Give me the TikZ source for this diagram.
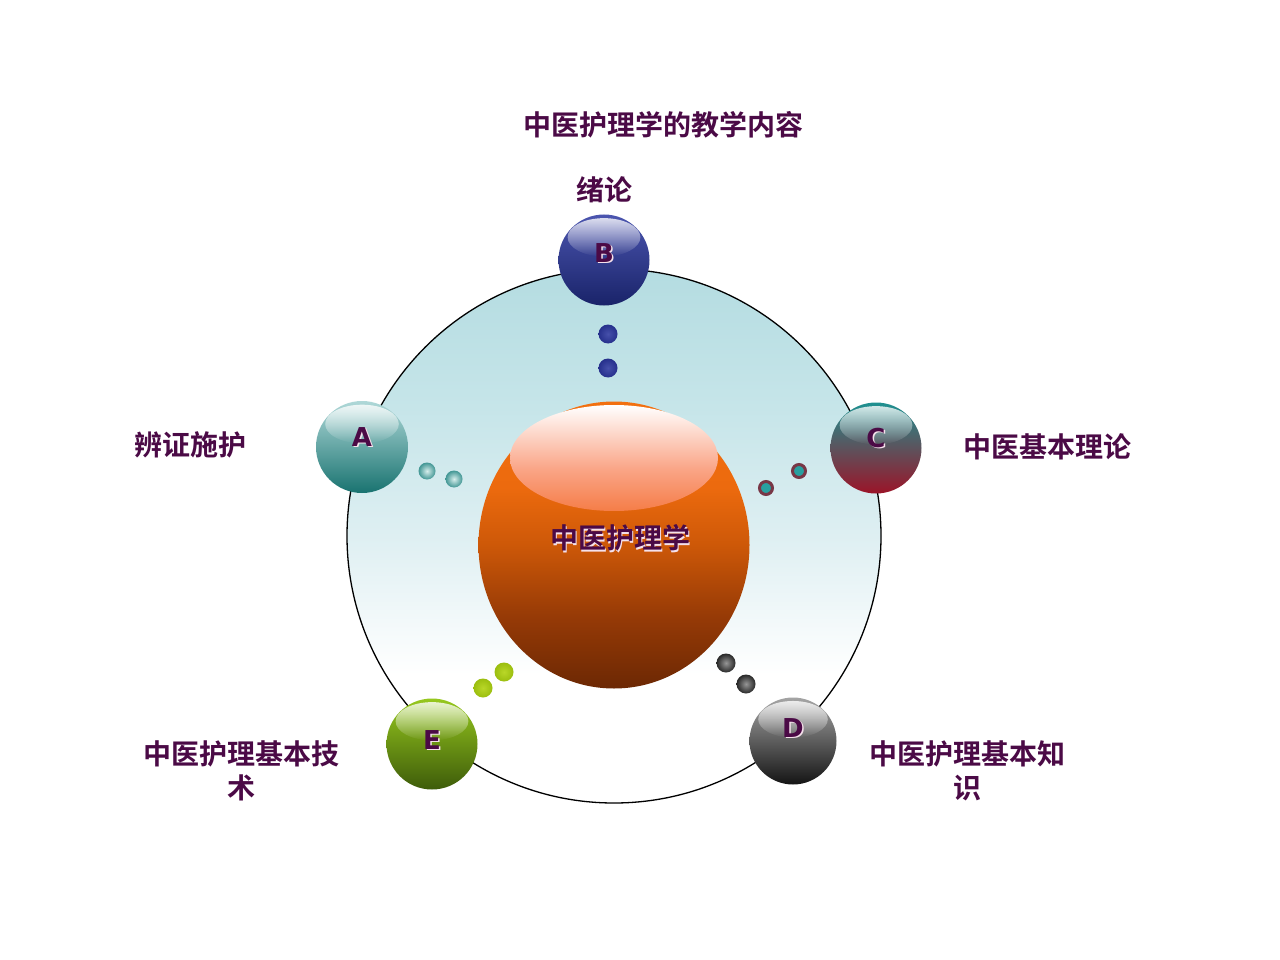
\documentclass[tikz,border=0pt]{standalone}
\usepackage{fontspec}
\usetikzlibrary{shapes.geometric,fadings,calc}
\newfontfamily\cjkb{Noto Sans CJK SC Bold}
\newfontfamily\latf{DejaVu Sans}
\definecolor{txtpurple}{RGB}{75,10,70}
\definecolor{shadowpink}{RGB}{245,225,235}
\definecolor{coredark}{RGB}{108,40,4}
\definecolor{corelow}{RGB}{150,58,6}
\definecolor{coremid}{RGB}{205,88,8}
\definecolor{corehigh}{RGB}{236,106,14}
\definecolor{coretop}{RGB}{242,112,16}
\definecolor{ringtop}{RGB}{180,220,225}
\definecolor{ringupper}{RGB}{198,229,233}
\definecolor{ringmid}{RGB}{222,239,242}
\definecolor{hlpink}{RGB}{250,165,135}
\definecolor{hlbottom}{RGB}{245,125,72}
\pgfdeclareverticalshading{coreshade}{100bp}{color(0bp)=(coredark); color(25bp)=(coredark); color(37.5bp)=(corelow); color(50bp)=(coremid); color(60bp)=(corehigh); color(75bp)=(coretop); color(100bp)=(coretop)}
\pgfdeclareverticalshading{ringshade}{100bp}{color(0bp)=(white); color(25bp)=(white); color(37bp)=(white); color(50bp)=(ringmid); color(62bp)=(ringupper); color(75bp)=(ringtop); color(100bp)=(ringtop)}
\pgfdeclareverticalshading{hlshade}{100bp}{color(0bp)=(hlbottom); color(25bp)=(hlbottom); color(45bp)=(hlpink); color(75bp)=(white); color(100bp)=(white)}
\tikzfading[name=hlfade, top color=transparent!20, bottom color=transparent!100]
\tikzset{
  lbl/.style={font=\cjkb\fontsize{28}{34}\selectfont, text=txtpurple, align=center, inner sep=0pt},
  lettersty/.style={font=\latf\bfseries\fontsize{26}{26}\selectfont, text=txtpurple, inner sep=0pt},
  lettershadow/.style={font=\latf\bfseries\fontsize{26}{26}\selectfont, text=shadowpink, inner sep=0pt},
  ballbase/.style={circle, inner sep=0pt, minimum size=#1},
  dot/.style={circle, inner sep=0pt, minimum size=#1},
}
% #1 name, #2 position, #3 diameter (pt), #4 top, #5 mid, #6 bottom, #7 letter, #8 letter up-shift
\newcommand{\glossball}[8]{%
  \node[ballbase=#3pt, top color=#4, middle color=#5, bottom color=#6] (#1) at #2 {};
  \fill[white, path fading=hlfade] ([yshift=0.25*#3pt]#1.center) ellipse [x radius=0.4*#3pt, y radius=0.21*#3pt];
  \node[lettershadow] (#1s) at ([xshift=1.5pt, yshift=#8pt-1.5pt]#1.center) {#7};
  \node[lettersty] (#1t) at ([yshift=#8pt]#1.center) {#7};
}
\begin{document}
\begin{tikzpicture}[x=1pt, y=-1pt]
\useasboundingbox (0,0) rectangle (1280,960);
\fill[white] (0,0) rectangle (1280,960);

% outer ring
\node[circle, inner sep=0pt, minimum size=534pt, draw=black, line width=1.3pt,
      shading=ringshade] (ring) at (614,536) {};

% central sphere
\node[ellipse, inner sep=0pt, minimum width=271pt, minimum height=287pt,
      shading=coreshade] (core) at (614,545) {};
\path[shading=hlshade] (614,458) ellipse [x radius=104, y radius=53];
\node[lbl, text=shadowpink] (coreshadow) at (621.5,539.5) {中医护理学};
\node[lbl] (coretext) at (620,538) {中医护理学};

% small dots
\node[dot=19pt, inner color={rgb,255:red,70;green,80;blue,170}, outer color={rgb,255:red,38;green,48;blue,140}] (b1) at (608,334) {};
\node[dot=19pt, inner color={rgb,255:red,70;green,80;blue,170}, outer color={rgb,255:red,38;green,48;blue,140}] (b2) at (608,368) {};
\node[dot=17pt, inner color={rgb,255:red,215;green,238;blue,236}, outer color={rgb,255:red,65;green,150;blue,148}] (a1) at (427,471) {};
\node[dot=17pt, inner color={rgb,255:red,215;green,238;blue,236}, outer color={rgb,255:red,65;green,150;blue,148}] (a2) at (454,479) {};
\node[dot=13pt, fill={rgb,255:red,40;green,160;blue,160}, draw={rgb,255:red,120;green,55;blue,70}, line width=3pt] (c1) at (766,488) {};
\node[dot=13pt, fill={rgb,255:red,40;green,160;blue,160}, draw={rgb,255:red,120;green,55;blue,70}, line width=3pt] (c2) at (799,471) {};
\node[dot=19pt, inner color={rgb,255:red,150;green,150;blue,150}, outer color={rgb,255:red,40;green,40;blue,40}] (d1) at (726,663) {};
\node[dot=19pt, inner color={rgb,255:red,150;green,150;blue,150}, outer color={rgb,255:red,40;green,40;blue,40}] (d2) at (746,684) {};
\node[dot=19pt, inner color={rgb,255:red,185;green,215;blue,40}, outer color={rgb,255:red,155;green,190;blue,15}] (e1) at (483,688) {};
\node[dot=19pt, inner color={rgb,255:red,185;green,215;blue,40}, outer color={rgb,255:red,155;green,190;blue,15}] (e2) at (504,672) {};

% satellite spheres
\glossball{A}{(362,447)}{92}{{rgb,255:red,175;green,216;blue,216}}{{rgb,255:red,110;green,175;blue,175}}{{rgb,255:red,25;green,115;blue,112}}{A}{10}
\glossball{B}{(604,260)}{91}{{rgb,255:red,75;green,85;blue,175}}{{rgb,255:red,42;green,52;blue,142}}{{rgb,255:red,25;green,35;blue,105}}{B}{7}
\glossball{C}{(876,448)}{91}{{rgb,255:red,30;green,145;blue,145}}{{rgb,255:red,140;green,100;blue,100}}{{rgb,255:red,155;green,20;blue,40}}{C}{10}
\glossball{D}{(793,741)}{87}{{rgb,255:red,165;green,165;blue,165}}{{rgb,255:red,100;green,100;blue,100}}{{rgb,255:red,20;green,20;blue,20}}{D}{13}
\glossball{E}{(432,744)}{91}{{rgb,255:red,150;green,200;blue,30}}{{rgb,255:red,112;green,160;blue,10}}{{rgb,255:red,62;green,92;blue,10}}{E}{4}

% labels
\node[lbl] (title) at (663,125) {中医护理学的教学内容};
\node[lbl] (lB) at (604,190) {绪论};
\node[lbl] (lA) at (190,445) {辨证施护};
\node[lbl] (lC) at (1047,447) {中医基本理论};
\node[lbl] (lE) at (241,771) {中医护理基本技\\术};
\node[lbl] (lD) at (967,771) {中医护理基本知\\识};
\end{tikzpicture}
\end{document}
